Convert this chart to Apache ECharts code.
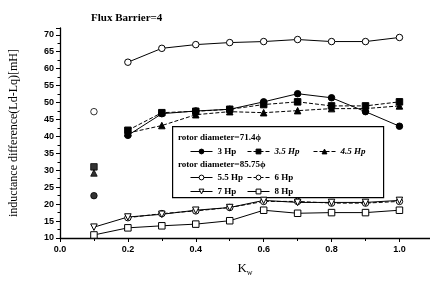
<!DOCTYPE html>
<html><head><meta charset="utf-8">
<script src="https://cdn.jsdelivr.net/npm/echarts@6/dist/echarts.min.js"></script>
<style>html,body{margin:0;padding:0;background:#fff}#c{width:430px;height:282px}</style>
</head><body><div id="c"></div>
<script>
const kw = [0.1, 0.2, 0.3, 0.4, 0.5, 0.6, 0.7, 0.8, 0.9, 1.0];
const hp3  = [22.5, 40.3, 46.7, 47.5, 48.0, 50.2, 52.6, 51.4, 47.3, 43.0];
const hp35 = [31.0, 41.8, 47.0, 47.4, 48.0, 49.4, 50.2, 49.0, 49.0, 50.2];
const hp45 = [29.2, 41.0, 43.2, 46.4, 47.3, 47.0, 47.6, 48.2, 48.2, 49.0];
const hp55 = [47.3, 61.9, 66.0, 67.1, 67.7, 68.0, 68.6, 68.0, 68.0, 69.2];
const hp6  = [null, 16.0, 17.2, 18.0, 19.0, 20.8, 20.8, 20.3, 20.3, 20.8];
const hp7  = [13.2, 16.2, 17.0, 18.2, 19.0, 21.1, 20.5, 20.5, 20.5, 21.1];
const hp8  = [10.9, 13.0, 13.6, 14.1, 15.1, 18.2, 17.3, 17.5, 17.5, 18.2];
const yTicks = [10, 15, 20, 25, 30, 35, 40, 45, 50, 55, 60, 65, 70];
const xTicks = [0.0, 0.2, 0.4, 0.6, 0.8, 1.0];
const names = ['3 Hp', '3.5 Hp', '4.5 Hp', '5.5 Hp', '6 Hp', '7 Hp', '8 Hp'];

const pairs = (arr, from) => kw.map((k, i) => [k, i < from ? null : arr[i]]);
const first = (arr) => [[kw[0], arr[0]]];

const chart = echarts.init(document.getElementById('c'), null, {renderer: 'canvas'});
const lineBase = (name, arr, from, symbol, fill, dashed, rot) => ({
  name, type: 'line', data: pairs(arr, from), symbol, symbolSize: 6.5, symbolRotate: rot || 0,
  connectNulls: false,
  lineStyle: {color: '#000', width: 1, type: dashed ? [4, 2] : 'solid'},
  itemStyle: {color: fill, borderColor: '#000', borderWidth: 1},
  emphasis: {disabled: true}, z: 3
});
const scat = (arr, symbol, fill) => ({
  type: 'scatter', data: first(arr), symbol, symbolSize: 6.5,
  itemStyle: {color: fill, borderColor: '#000', borderWidth: 1}, z: 3
});

const legFont = {fontFamily: 'Liberation Serif', fontSize: 9, fontWeight: 'bold', color: '#000'};
const leg = (name, left, top, italic) => ({
  data: [name], left, top, itemWidth: 22, itemHeight: 6, itemGap: 0, padding: 0, z: 20,
  lineStyle: {width: 1}, itemStyle: {borderWidth: 1},
  selectedMode: false, textStyle: Object.assign({}, legFont, italic ? {fontStyle: 'italic'} : {})
});

chart.setOption({
  animation: false,
  title: {text: 'Flux Barrier=4', left: 86, top: 8,
    textStyle: {fontFamily: 'Liberation Serif', fontSize: 11, fontWeight: 'bold', color: '#000'}},
  grid: {left: 59, right: 0, top: 28, bottom: 41},
  xAxis: {type: 'value', min: 0, max: 1.09, interval: 0.2,
    name: '{k|K}{w|w}', nameLocation: 'middle', nameGap: 23,
    nameTextStyle: {rich: {k: {fontFamily: 'Liberation Serif', fontSize: 13, color: '#000'},
      w: {fontFamily: 'Liberation Serif', fontSize: 8, color: '#000', padding: [8, 0, 0, 0]}}},
    axisLine: {lineStyle: {color: '#000', width: 1.3}},
    axisTick: {length: 4, lineStyle: {color: '#000'}},
    minorTick: {show: true, splitNumber: 2, length: 3, lineStyle: {color: '#000'}},
    splitLine: {show: false},
    axisLabel: {showMaxLabel: false, margin: 7, color: '#000', fontFamily: 'Liberation Sans', fontWeight: 'bold', fontSize: 9,
      formatter: v => { const t = xTicks.find(x => Math.abs(x - v) < 1e-6); return t === undefined ? '' : t.toFixed(1); }}
  },
  yAxis: {type: 'value', min: 10, max: 72, interval: 5,
    name: 'inductance difference(Ld-Lq)[mH]', nameLocation: 'middle', nameGap: 40,
    nameTextStyle: {fontFamily: 'Liberation Serif', fontSize: 12, color: '#000'},
    axisLine: {show: true, lineStyle: {color: '#000', width: 1.3}},
    axisTick: {length: 4, lineStyle: {color: '#000'}},
    minorTick: {show: true, splitNumber: 2, length: 2.5, lineStyle: {color: '#000'}},
    splitLine: {show: false},
    axisLabel: {showMaxLabel: false, margin: 6, color: '#000', fontFamily: 'Liberation Sans', fontWeight: 'bold', fontSize: 9,
      formatter: v => yTicks.includes(Math.round(v)) && Math.abs(v - Math.round(v)) < 1e-6 ? String(Math.round(v)) : ''}
  },
  legend: [
    leg(names[0], 190, 147, false),
    leg(names[1], 247, 147, true),
    leg(names[2], 313, 147, true),
    leg(names[3], 190, 173, false),
    leg(names[4], 247, 173, false),
    leg(names[5], 190, 187, false),
    leg(names[6], 247, 187, false)
  ],
  graphic: [
    {type: 'rect', left: 172, top: 126, z: 1, shape: {width: 211, height: 71},
      style: {fill: '#fff', stroke: '#000', lineWidth: 1.2}},
    {type: 'text', left: 178, top: 133, z: 11,
      style: {text: 'rotor diameter=71.4ϕ', fontFamily: 'Liberation Serif', fontSize: 9, fontWeight: 'bold', fill: '#000'}},
    {type: 'text', left: 178, top: 160, z: 11,
      style: {text: 'rotor diameter=85.75ϕ', fontFamily: 'Liberation Serif', fontSize: 9, fontWeight: 'bold', fill: '#000'}}
  ],
  series: [
    lineBase(names[0], hp3, 1, 'circle', '#000', false),
    lineBase(names[1], hp35, 1, 'rect', '#000', true),
    lineBase(names[2], hp45, 1, 'triangle', '#000', true),
    lineBase(names[3], hp55, 1, 'circle', '#fff', false),
    lineBase(names[4], hp6, 1, 'circle', '#fff', true),
    lineBase(names[5], hp7, 0, 'triangle', '#fff', false, 180),
    lineBase(names[6], hp8, 0, 'rect', '#fff', false),
    scat(hp3, 'circle', '#000'),
    scat(hp35, 'rect', '#000'),
    scat(hp45, 'triangle', '#000'),
    scat(hp55, 'circle', '#fff')
  ]
});
</script></body></html>
